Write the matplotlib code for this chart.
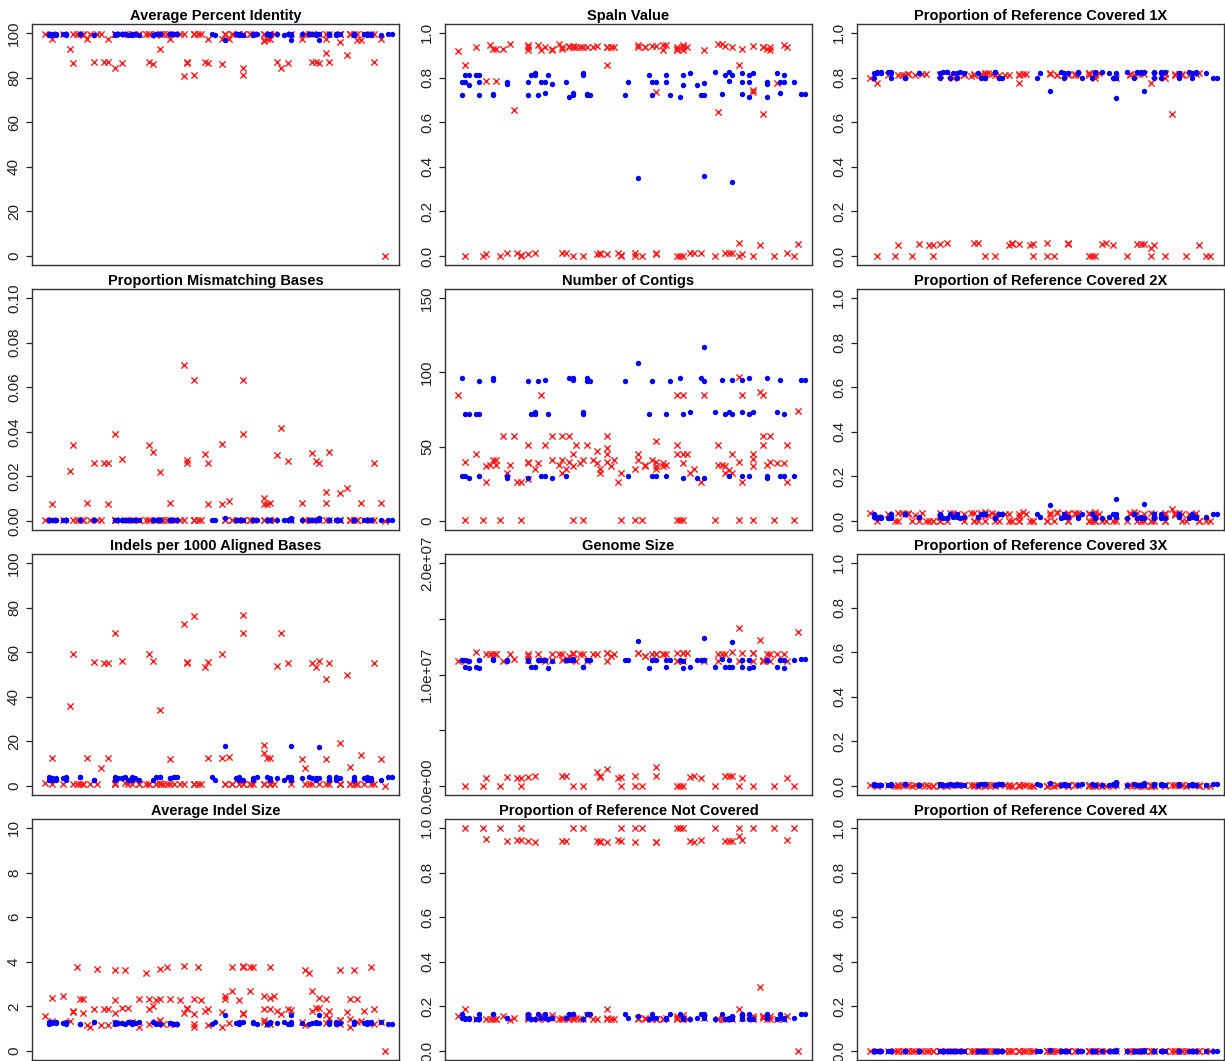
import matplotlib
matplotlib.use('Agg')
import matplotlib.pyplot as plt

plt.rcParams['font.family'] = ['Liberation Sans', 'DejaVu Sans']

# ---------------- data ----------------
red_x = [1,3,3,6,8,9,9,10,11,12,
         12,13,14,15,16,17,18,19,19,21,
         21,21,21,23,24,25,26,28,28,30,
         31,31,31,32,33,33,34,34,34,35,
         36,37,37,38,40,41,41,42,42,44,
         44,44,44,45,46,47,48,48,52,52,
         53,53,54,55,55,57,58,58,58,58,
         60,60,61,64,64,64,64,65,66,66,
         66,66,67,68,69,71,72,75,76,76,
         77,78,78,79,80,80,82,82,82,83,
         83,86,86,86,86,88,89,89,89,90,
         91,91,92,93,95,96,96,98,99]

blue_x = [2,2,3,3,4,4,6,7,7,7,
          11,11,15,15,21,21,22,23,23,24,
          25,26,26,27,28,32,33,34,34,37,
          37,38,38,39,49,50,53,56,57,57,
          58,61,61,62,65,66,66,68,70,71,
          72,72,72,75,77,78,79,79,80,80,
          83,83,83,85,85,85,86,90,90,90,
          93,94,94,95,95,98,100,101]

ident_red = [99.5,97.5,99.5,99.5,93,86.5,99.5,99.5,99.5,99.5,
             99,97.5,99.5,87,99.5,99.5,87,87,97.5,99.5,
             99.5,99.5,84.5,86.5,99.5,99.5,99.5,99.5,99.5,99.5,
             99.5,99.5,87,86,99.5,99,99.5,99.5,93,99.5,
             99.5,97.5,99.5,99.5,99.5,99.5,80.5,87,86.5,99.5,
             81,99.5,99.5,99.5,99.5,87,97.5,86.5,97.5,86,
             99.5,99.5,97.5,99.5,99.5,99.5,99.5,99.5,84.5,81,
             99.5,99.5,99.5,97,99.5,99.5,96.5,97.5,97.5,99.5,
             99.5,99.5,99.5,87,84.5,86.5,99.5,97.5,99.5,99.5,
             99.5,99.5,87,87,99.5,86.5,91,99.5,97.5,99.5,
             87,99.5,99.5,99.5,96,90,99.5,99.5,99.5,99.5,
             97,99.5,97,99.5,99.5,99.5,87,97.5,0]
ident_blue = [99.4,99.2,99.2,99.3,99.3,99.2,99.3,99.4,99.2,99.3,
              99.4,99.4,99.2,99.2,99.4,99.2,99.3,99.3,99.3,99.4,
              99.2,99.4,99.2,99.3,99.2,99.2,99.4,99.4,99.4,99.3,
              99.3,99.4,99.4,99.4,99.4,99.2,97.0,99.3,99.4,99.2,
              99.2,99.3,99.2,99.4,99.4,99.3,99.2,99.3,99.2,99.4,
              97.0,99.4,99.2,99.3,99.4,99.3,99.3,99.2,99.3,97.0,
              99.4,99.3,99.2,99.4,99.3,99.2,99.3,99.4,99.2,99.2,
              99.3,99.4,99.2,99.2,99.3,99.2,99.4,99.4]

spaln_red = [0.92,0.0,0.855,0.935,0.0,0.01,0.785,0.945,0.93,0.93,
             0.785,0.0,0.93,0.015,0.95,0.655,0.015,0.005,0.0,0.945,
             0.935,0.925,0.01,0.015,0.945,0.925,0.935,0.93,0.925,0.95,
             0.935,0.93,0.015,0.015,0.935,0.94,0.94,0.935,0.0,0.935,
             0.935,0.0,0.935,0.935,0.935,0.94,0.01,0.015,0.01,0.935,
             0.01,0.855,0.935,0.935,0.935,0.015,0.0,0.005,0.0,0.015,
             0.935,0.945,0.0,0.935,0.935,0.94,0.94,0.735,0.01,0.015,
             0.925,0.945,0.945,0.935,0.925,0.93,0.0,0.0,0.0,0.945,
             0.925,0.935,0.935,0.015,0.015,0.015,0.925,0.0,0.645,0.95,
             0.95,0.94,0.015,0.015,0.935,0.015,0.06,0.855,0.0,0.93,
             0.01,0.94,0.745,0.735,0.0,0.05,0.635,0.935,0.935,0.93,
             0.935,0.925,0.0,0.775,0.945,0.935,0.015,0.0,0.055]
spaln_blue = [0.72,0.78,0.78,0.81,0.81,0.765,0.81,0.72,0.78,0.81,
              0.72,0.725,0.78,0.77,0.72,0.78,0.81,0.82,0.81,0.72,
              0.78,0.73,0.78,0.81,0.77,0.78,0.715,0.72,0.73,0.82,
              0.81,0.725,0.72,0.72,0.72,0.78,0.35,0.81,0.72,0.78,
              0.78,0.81,0.78,0.72,0.715,0.81,0.765,0.82,0.765,0.72,
              0.36,0.72,0.775,0.825,0.725,0.81,0.825,0.785,0.81,0.33,
              0.725,0.82,0.78,0.715,0.81,0.78,0.82,0.715,0.78,0.77,
              0.82,0.73,0.78,0.78,0.81,0.78,0.725,0.725]

cov1_red = [0.80,0.0,0.775,0.81,0.0,0.05,0.81,0.81,0.81,0.815,
            0.815,0.0,0.81,0.055,0.815,0.815,0.05,0.05,0.0,0.815,
            0.81,0.81,0.055,0.06,0.81,0.80,0.81,0.815,0.81,0.805,
            0.81,0.815,0.06,0.06,0.815,0.81,0.82,0.815,0.0,0.82,
            0.815,0.0,0.81,0.81,0.81,0.81,0.05,0.06,0.055,0.815,
            0.055,0.775,0.81,0.815,0.815,0.05,0.0,0.055,0.0,0.06,
            0.82,0.815,0.0,0.81,0.81,0.81,0.815,0.81,0.06,0.055,
            0.81,0.815,0.81,0.82,0.81,0.82,0.0,0.0,0.0,0.81,
            0.80,0.815,0.82,0.055,0.06,0.05,0.80,0.0,0.81,0.815,
            0.81,0.815,0.055,0.055,0.815,0.055,0.035,0.775,0.0,0.81,
            0.05,0.82,0.80,0.815,0.0,0.635,0.81,0.815,0.81,0.815,
            0.81,0.815,0.0,0.81,0.815,0.82,0.05,0.0,0.0]
cov1_blue = [.80,.82,.82,.825,.825,.82,.825,.80,.82,.825,
             .80,.80,.82,.82,.80,.82,.825,.825,.825,.80,
             .82,.80,.82,.825,.82,.82,.80,.80,.80,.825,
             .825,.80,.80,.80,.80,.82,.74,.825,.80,.82,
             .82,.825,.82,.80,.80,.825,.82,.825,.82,.80,
             .71,.80,.82,.825,.80,.825,.825,.82,.825,.74,
             .80,.825,.82,.80,.825,.82,.825,.80,.82,.82,
             .825,.80,.82,.82,.825,.82,.80,.80]

mism_red = [0.0005,0.0075,0.0005,0.0005,0.0225,0.034,0.0005,0.0005,0.0005,0.0005,
            0.0005,0.008,0.0005,0.026,0.0005,0.0005,0.026,0.026,0.0075,0.0005,
            0.0005,0.0005,0.039,0.028,0.0005,0.0005,0.0005,0.0005,0.0005,0.0005,
            0.0005,0.0005,0.034,0.031,0.0005,0.0005,0.0005,0.0005,0.022,0.0005,
            0.0005,0.008,0.0005,0.0005,0.0005,0.0005,0.07,0.0275,0.026,0.0005,
            0.063,0.0005,0.0005,0.0005,0.0005,0.030,0.0075,0.026,0.0075,0.0345,
            0.0005,0.0005,0.009,0.0005,0.0005,0.0005,0.0005,0.0005,0.063,0.039,
            0.0005,0.0005,0.0005,0.0075,0.0005,0.0005,0.0105,0.0075,0.008,0.0005,
            0.0005,0.0005,0.0005,0.0295,0.0415,0.027,0.0005,0.008,0.0005,0.0005,
            0.0005,0.0005,0.0305,0.027,0.0005,0.026,0.013,0.0005,0.008,0.0005,
            0.031,0.0005,0.0005,0.0005,0.0125,0.015,0.0005,0.0005,0.0005,0.0005,
            0.0005,0.0005,0.008,0.0005,0.0005,0.0005,0.026,0.008,0.0]
mism_blue = [.0004,.0006,.0006,.0005,.0005,.0006,.0005,.0004,.0006,.0005,
             .0004,.0004,.0006,.0006,.0004,.0006,.0005,.0005,.0005,.0004,
             .0006,.0004,.0006,.0005,.0006,.0006,.0004,.0004,.0004,.0005,
             .0005,.0004,.0004,.0004,.0004,.0006,.0015,.0005,.0004,.0006,
             .0006,.0005,.0006,.0004,.0004,.0005,.0006,.0005,.0006,.0004,
             .0015,.0004,.0006,.0005,.0004,.0005,.0005,.0006,.0005,.0015,
             .0004,.0005,.0006,.0004,.0005,.0006,.0005,.0004,.0006,.0006,
             .0005,.0004,.0006,.0006,.0005,.0006,.0004,.0004]

contigs_red = [85,1,40,45,1,26,37,38,41,41,
               38,1,57,32,38,57,26,26,1,51,
               40,39,28,35,39,85,51,57,41,38,
               57,41,32,35,57,40,45,37,1,51,
               39,1,41,51,41,47,39,35,32,57,
               49,45,40,37,41,26,1,32,1,35,
               45,41,1,38,37,41,54,40,37,35,
               39,37,38,85,51,45,1,1,1,85,
               45,39,45,32,35,26,85,1,51,38,
               38,37,32,34,45,32,97,40,1,85,
               26,45,42,37,1,87,85,57,51,38,
               57,40,1,39,39,51,26,1,74]
contigs_blue = [96,30,30,72,72,29,72,94,30,72,
                95,96,29,30,94,29,72,73,72,94,
                30,95,30,72,29,30,96,95,96,73,
                72,96,94,94,94,30,106,72,94,30,
                30,72,30,94,96,72,29,73,29,96,
                117,94,29,73,95,72,73,30,72,95,
                95,73,30,96,72,30,73,96,30,29,
                73,95,30,30,72,30,95,95]

cov2_red = [0.035,0.0,0.02,0.03,0.0,0.0,0.038,0.035,0.03,0.035,
            0.03,0.0,0.025,0.0,0.035,0.0,0.0,0.0,0.0,0.035,
            0.02,0.0,0.0,0.0,0.035,0.035,0.03,0.03,0.0,0.035,
            0.035,0.0,0.0,0.0,0.035,0.025,0.04,0.03,0.0,0.025,
            0.035,0.0,0.03,0.0,0.03,0.03,0.0,0.0,0.0,0.02,
            0.0,0.0,0.03,0.04,0.03,0.0,0.0,0.0,0.0,0.0,
            0.025,0.035,0.0,0.035,0.04,0.03,0.035,0.03,0.0,0.0,
            0.03,0.035,0.035,0.035,0.03,0.0,0.0,0.0,0.0,0.04,
            0.03,0.0,0.03,0.0,0.0,0.0,0.0,0.0,0.03,0.035,
            0.04,0.035,0.0,0.0,0.03,0.0,0.0,0.035,0.0,0.03,
            0.0,0.035,0.03,0.0,0.0,0.055,0.025,0.035,0.03,0.035,
            0.03,0.0,0.0,0.03,0.035,0.0,0.0,0.0,0.0]
cov2_blue = [.03,.02,.02,.015,.015,.02,.015,.03,.02,.015,
             .03,.03,.02,.02,.03,.02,.015,.015,.015,.03,
             .02,.03,.02,.015,.02,.02,.03,.03,.03,.015,
             .015,.03,.03,.03,.03,.02,.07,.015,.03,.02,
             .02,.015,.02,.03,.03,.015,.02,.015,.02,.03,
             .10,.03,.02,.015,.03,.015,.015,.02,.015,.075,
             .03,.015,.02,.03,.015,.02,.015,.03,.02,.02,
             .015,.03,.02,.02,.015,.02,.03,.03]

indel_red = [1.2,12.5,1.0,1.0,36,59,1.0,1.0,1.0,1.0,
             1.0,12.5,1.0,55.5,1.0,8,55,55,12.5,1.0,
             0.8,1.2,68.5,56,1.2,1.0,1.0,1.0,1.0,1.0,
             1.0,1.0,59,56,1.0,1.0,1.5,1.0,34,1.0,
             1.0,12,1.0,1.0,1.0,1.0,72.5,55.5,55,1.0,
             76,1.0,1.0,1.0,1.0,53.5,12.5,55.5,12.5,59,
             1.0,1.0,13,1.0,1.0,1.0,1.0,1.0,76.5,68.5,
             1.0,1.0,1.0,15,1.0,1.0,18.5,12.5,12.5,1.0,
             1.0,1.0,1.0,54,68.5,55,1.0,12,1.0,8,
             1.0,1.0,55,53.5,1.0,56,48,1.0,12,1.0,
             55,1.0,1.0,1.0,19.5,50,8.5,1.0,1.0,1.0,
             1.0,1.0,14,1.0,1.0,1.0,55,12,0]
indel_blue = [4.2,2.6,2.6,3.6,3.6,2.6,3.6,4.2,2.6,3.6,
              4.2,4.2,2.6,2.6,4.2,2.6,3.6,3.6,3.6,4.2,
              2.6,4.2,2.6,3.6,2.6,2.6,4.2,4.2,4.2,3.6,
              3.6,4.2,4.2,4.2,4.2,2.6,18,3.6,4.2,2.6,
              2.6,3.6,2.6,4.2,4.2,3.6,2.6,3.6,2.6,4.2,
              18,4.2,2.6,3.6,4.2,3.6,3.6,2.6,3.6,17.5,
              4.2,3.6,2.6,4.2,3.6,2.6,3.6,4.2,2.6,2.6,
              3.6,4.2,2.6,2.6,3.6,2.6,4.2,4.2]

genome_red_mb = [11.2,0,11.2,12.0,0,0.7,11.8,11.8,11.8,11.8,
                 11.8,0,11.2,0.8,11.8,11.4,0.7,0.7,0,11.8,
                 11.7,11.3,0.8,0.9,11.8,11.3,11.2,11.8,11.3,11.8,
                 11.8,11.3,0.9,0.9,11.7,11.3,11.8,11.9,0,11.2,
                 11.8,0,11.8,11.2,11.8,11.8,1.3,0.9,0.8,11.9,
                 1.5,11.2,11.9,11.7,11.8,0.7,0,0.8,0,0.9,
                 11.9,11.9,0,11.7,11.7,11.8,11.8,11.8,1.7,0.9,
                 11.8,11.8,11.8,11.9,11.2,11.2,0,0,0,11.9,
                 11.9,11.2,11.9,0.8,0.9,0.7,11.2,0,11.2,11.8,
                 11.8,11.8,0.9,0.9,12.0,0.9,14.2,11.2,0,11.9,
                 0.7,11.9,11.9,11.2,0,13.1,11.2,11.3,11.2,11.8,
                 11.8,11.2,0,11.8,11.8,11.2,0.7,0,13.8]
genome_blue_mb = [11.3,11.3,11.3,10.7,10.6,11.2,10.7,11.3,11.3,10.6,
                  11.4,11.3,11.2,11.3,11.3,11.2,10.7,10.7,10.7,11.3,
                  11.3,11.3,11.3,10.6,11.2,11.3,11.3,11.4,11.3,10.7,
                  10.7,11.3,11.3,11.3,11.3,11.3,13.0,10.6,11.3,11.3,
                  11.3,10.7,11.3,11.3,11.3,10.6,11.2,10.7,11.3,11.3,
                  13.3,11.3,11.3,10.7,11.4,10.7,10.7,11.3,10.7,12.9,
                  11.3,10.7,11.3,11.3,10.6,11.3,10.7,11.3,11.3,11.3,
                  10.7,11.3,11.3,11.3,10.6,11.3,11.4,11.4]

cov3_red = [0.006,0.001,0.006,0.006,0.001,0.001,0.006,0.006,0.006,0.006,
            0.006,0.001,0.006,0.001,0.006,0.006,0.001,0.001,0.001,0.006,
            0.006,0.006,0.001,0.001,0.006,0.006,0.006,0.006,0.006,0.006,
            0.006,0.006,0.001,0.001,0.006,0.006,0.006,0.006,0.001,0.006,
            0.006,0.001,0.006,0.006,0.006,0.006,0.001,0.001,0.001,0.006,
            0.001,0.006,0.006,0.006,0.006,0.001,0.001,0.001,0.001,0.001,
            0.006,0.006,0.001,0.006,0.006,0.006,0.006,0.006,0.001,0.001,
            0.006,0.006,0.006,0.006,0.006,0.006,0.001,0.001,0.001,0.006,
            0.006,0.006,0.006,0.001,0.001,0.001,0.006,0.001,0.006,0.006,
            0.006,0.006,0.001,0.001,0.006,0.001,0.001,0.006,0.001,0.006,
            0.001,0.006,0.006,0.006,0.001,0.004,0.006,0.006,0.006,0.006,
            0.006,0.006,0.001,0.006,0.006,0.006,0.001,0.001,0.0]
cov3_blue = [.008,.006,.006,.005,.005,.006,.005,.008,.006,.005,
             .008,.008,.006,.006,.008,.006,.005,.005,.005,.008,
             .006,.008,.006,.005,.006,.006,.008,.008,.008,.005,
             .005,.008,.008,.008,.008,.006,.015,.005,.008,.006,
             .006,.005,.006,.008,.008,.005,.006,.005,.006,.008,
             .02,.008,.006,.005,.008,.005,.005,.006,.005,.015,
             .008,.005,.006,.008,.005,.006,.005,.008,.006,.006,
             .005,.008,.006,.006,.005,.006,.008,.008]

indsz_red = [1.55,1.35,2.4,2.45,1.35,1.8,1.75,3.75,2.35,2.35,
             1.7,1.15,1.1,1.9,3.7,1.15,1.9,1.9,1.15,3.65,
             1.7,1.25,2.3,1.95,3.65,1.95,1.3,2.35,1.1,3.5,
             2.35,1.2,1.9,2.0,2.3,1.3,3.7,2.35,1.4,1.2,
             3.75,1.2,2.35,1.2,2.3,3.8,1.7,1.95,1.9,2.35,
             1.65,1.1,1.2,3.75,2.3,1.8,1.15,1.9,1.1,1.75,
             2.45,2.35,1.25,3.75,2.7,2.3,3.8,3.75,1.65,1.7,
             3.75,2.7,3.75,2.45,1.9,1.3,1.4,1.2,1.2,3.75,
             2.4,1.9,2.45,1.8,1.65,1.9,1.85,1.3,3.65,1.15,
             3.5,2.7,1.8,1.95,2.4,1.95,1.6,2.35,1.25,1.8,
             1.5,3.65,1.4,1.2,1.4,1.75,1.1,2.35,1.45,3.65,
             2.35,1.3,1.35,1.8,3.75,1.2,1.9,1.3,0]
indsz_blue = [1.2,1.3,1.3,1.25,1.25,1.3,1.25,1.2,1.3,1.25,
              1.2,1.2,1.3,1.3,1.2,1.3,1.25,1.25,1.25,1.2,
              1.3,1.2,1.3,1.25,1.3,1.3,1.2,1.2,1.2,1.25,
              1.25,1.2,1.2,1.2,1.2,1.3,1.6,1.25,1.2,1.3,
              1.3,1.25,1.3,1.2,1.2,1.25,1.3,1.25,1.3,1.2,
              1.6,1.2,1.3,1.25,1.2,1.25,1.25,1.3,1.25,1.6,
              1.2,1.25,1.3,1.2,1.25,1.3,1.25,1.2,1.3,1.3,
              1.25,1.2,1.3,1.3,1.25,1.3,1.2,1.2]

notcov_red = [0.155,1.0,0.19,0.145,1.0,0.95,0.145,0.145,0.145,0.145,
              0.145,1.0,0.155,0.94,0.14,0.15,0.945,0.945,1.0,0.15,
              0.145,0.155,0.94,0.935,0.145,0.16,0.145,0.15,0.16,0.145,
              0.15,0.145,0.94,0.94,0.145,0.155,0.15,0.145,1.0,0.15,
              0.145,1.0,0.145,0.16,0.145,0.145,0.94,0.935,0.94,0.145,
              0.935,0.19,0.15,0.145,0.145,0.945,1.0,0.94,1.0,0.935,
              0.145,0.15,1.0,0.145,0.15,0.145,0.145,0.145,0.935,0.935,
              0.145,0.145,0.15,0.145,0.15,0.155,1.0,1.0,1.0,0.145,
              0.15,0.16,0.145,0.94,0.935,0.945,0.15,1.0,0.145,0.145,
              0.145,0.145,0.94,0.94,0.145,0.94,0.965,0.19,1.0,0.15,
              0.945,0.145,0.15,0.155,1.0,0.285,0.155,0.15,0.155,0.145,
              0.145,0.155,1.0,0.145,0.145,0.155,0.945,1.0,0.0]
notcov_blue = [.165,.15,.15,.145,.145,.15,.145,.165,.15,.145,
               .165,.165,.15,.15,.165,.15,.145,.145,.145,.165,
               .15,.165,.15,.145,.15,.15,.165,.165,.165,.145,
               .145,.165,.165,.165,.165,.15,.155,.145,.165,.15,
               .15,.145,.15,.165,.165,.145,.15,.145,.15,.165,
               .155,.165,.15,.145,.165,.145,.145,.15,.145,.155,
               .165,.145,.15,.165,.145,.15,.145,.165,.15,.15,
               .145,.165,.15,.15,.145,.15,.165,.165]

cov4_red = [.002,0,.002,.002,0,0,.002,.002,.002,.002,
            .002,0,.002,0,.002,.002,0,0,0,.002,
            .002,.002,0,0,.002,.002,.002,.002,.002,.002,
            .002,.002,0,0,.002,.002,.002,.002,0,.002,
            .002,0,.002,.002,.002,.002,0,0,0,.002,
            0,.002,.002,.002,.002,0,0,0,0,0,
            .002,.002,0,.002,.002,.002,.002,.002,0,0,
            .002,.002,.002,.002,.002,.002,0,0,0,.002,
            .002,.002,.002,0,0,0,.002,0,.002,.002,
            .002,.002,0,0,.002,0,0,.002,0,.002,
            0,.002,.002,.002,0,.001,.002,.002,.002,.002,
            .002,.002,0,.002,.002,.002,0,0,0]
cov4_blue = [.002,.002,.002,.001,.001,.002,.001,.002,.002,.001,
             .002,.002,.002,.002,.002,.002,.001,.001,.001,.002,
             .002,.002,.002,.001,.002,.002,.002,.002,.002,.001,
             .001,.002,.002,.002,.002,.002,.004,.001,.002,.002,
             .002,.001,.002,.002,.002,.001,.002,.001,.002,.002,
             .004,.002,.002,.001,.002,.001,.001,.002,.001,.004,
             .002,.001,.002,.002,.001,.002,.001,.002,.002,.002,
             .001,.002,.002,.002,.001,.002,.002,.002]

prop_ticks = [0, 0.2, 0.4, 0.6, 0.8, 1.0]
prop_labels = ["0.0", "0.2", "0.4", "0.6", "0.8", "1.0"]

panels = [
    ("Average Percent Identity", ident_red, ident_blue, (0, 100),
     [0, 20, 40, 60, 80, 100], ["0", "20", "40", "60", "80", "100"]),
    ("Spaln Value", spaln_red, spaln_blue, (0, 1), prop_ticks, prop_labels),
    ("Proportion of Reference Covered 1X", cov1_red, cov1_blue, (0, 1), prop_ticks, prop_labels),
    ("Proportion Mismatching Bases", mism_red, mism_blue, (0, 0.1),
     [0, 0.02, 0.04, 0.06, 0.08, 0.10], ["0.00", "0.02", "0.04", "0.06", "0.08", "0.10"]),
    ("Number of Contigs", contigs_red, contigs_blue, (0, 150),
     [0, 50, 100, 150], ["0", "50", "100", "150"]),
    ("Proportion of Reference Covered 2X", cov2_red, cov2_blue, (0, 1), prop_ticks, prop_labels),
    ("Indels per 1000 Aligned Bases", indel_red, indel_blue, (0, 100),
     [0, 20, 40, 60, 80, 100], ["0", "20", "40", "60", "80", "100"]),
    ("Genome Size", genome_red_mb, genome_blue_mb, (0, 20),
     [0, 5, 10, 15, 20], ["0.0e+00", "", "1.0e+07", "", "2.0e+07"]),
    ("Proportion of Reference Covered 3X", cov3_red, cov3_blue, (0, 1), prop_ticks, prop_labels),
    ("Average Indel Size", indsz_red, indsz_blue, (0, 10),
     [0, 2, 4, 6, 8, 10], ["0", "2", "4", "6", "8", "10"]),
    ("Proportion of Reference Not Covered", notcov_red, notcov_blue, (0, 1), prop_ticks, prop_labels),
    ("Proportion of Reference Covered 4X", cov4_red, cov4_blue, (0, 1), prop_ticks, prop_labels),
]

# ---------------- layout ----------------
W, H = 1225, 1061
fig = plt.figure(figsize=(W / 100, H / 100), dpi=100)
fig.patch.set_facecolor('white')

col_left = [32, 445, 857]
row_top = [24, 289, 554, 819]
aw, ah = 367, 241
XLIM = (-2.85, 103.1)

for k, (title, ry, by, (lo, hi), ticks, labels) in enumerate(panels):
    r, c = divmod(k, 3)
    ax = fig.add_axes([col_left[c] / W, 1 - (row_top[r] + ah) / H, aw / W, ah / H])
    ax.scatter(red_x, ry, marker='x', color='#ff1a1a', s=20, linewidths=1.0, zorder=2)
    ax.scatter(blue_x, by, marker='o', color='#0000ff', s=15, linewidths=0, zorder=3)
    pad = 0.04 * (hi - lo)
    ax.set_ylim(lo - pad, hi + pad)
    ax.set_xlim(*XLIM)
    ax.set_xticks([])
    ax.set_yticks(ticks)
    ax.set_yticklabels(labels)
    ax.tick_params(axis='y', direction='out', length=4.5, width=0.9, pad=3.5,
                   labelsize=11, colors='#222222')
    for lab in ax.get_yticklabels():
        lab.set_rotation(90)
        lab.set_va('center')
    for sp in ax.spines.values():
        sp.set_linewidth(1.0)
        sp.set_color('#333333')
    ax.set_title(title, fontsize=10.5, fontweight='bold', pad=3)

fig.savefig('out.png', dpi=100, facecolor='white')
